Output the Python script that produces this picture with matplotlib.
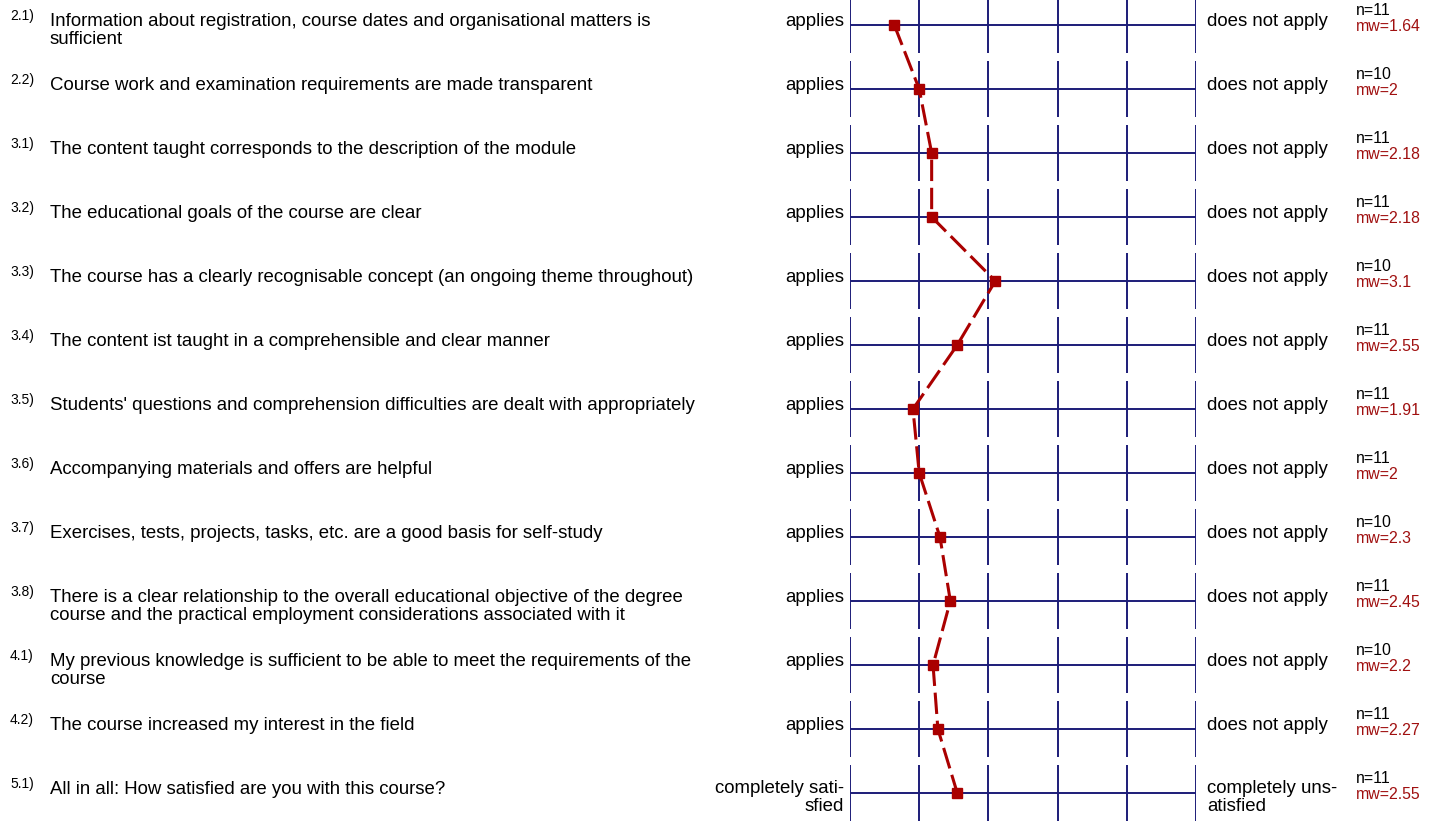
import matplotlib
matplotlib.use("Agg")
import matplotlib.pyplot as plt
import matplotlib.transforms as mtransforms

plt.rcParams['font.family'] = ['Liberation Sans', 'DejaVu Sans']

numbers = ["2.1)", "2.2)", "3.1)", "3.2)", "3.3)", "3.4)", "3.5)", "3.6)",
           "3.7)", "3.8)", "4.1)", "4.2)", "5.1)"]
questions = [
    "Information about registration, course dates and organisational matters is\nsufficient",
    "Course work and examination requirements are made transparent",
    "The content taught corresponds to the description of the module",
    "The educational goals of the course are clear",
    "The course has a clearly recognisable concept (an ongoing theme throughout)",
    "The content ist taught in a comprehensible and clear manner",
    "Students' questions and comprehension difficulties are dealt with appropriately",
    "Accompanying materials and offers are helpful",
    "Exercises, tests, projects, tasks, etc. are a good basis for self-study",
    "There is a clear relationship to the overall educational objective of the degree\ncourse and the practical employment considerations associated with it",
    "My previous knowledge is sufficient to be able to meet the requirements of the\ncourse",
    "The course increased my interest in the field",
    "All in all: How satisfied are you with this course?",
]
left_labels = ["applies"] * 12 + ["completely sati-\nsfied"]
right_labels = ["does not apply"] * 12 + ["completely uns-\natisfied"]
n_values = [11, 10, 11, 11, 10, 11, 11, 11, 10, 11, 10, 11, 11]
means = [1.64, 2, 2.18, 2.18, 3.1, 2.55, 1.91, 2, 2.3, 2.45, 2.2, 2.27, 2.55]
scale = [1, 2, 3, 4, 5, 6]

W, H = 1439, 821
fig = plt.figure(figsize=(W / 100, H / 100), dpi=100)
x0, x1 = 850, 1196
ax = fig.add_axes([x0 / W, 0, (x1 - x0) / W, 1])
nrows = len(means)
row_h = 64
top_c = 25
ax.set_xlim(1, 6)
ax.set_ylim((H - top_c) / row_h, -top_c / row_h)
ax.axis('off')

navy = '#1c1c78'
red = '#aa0000'
half = 28 / row_h
for i in range(nrows):
    ax.plot([scale[0], scale[-1]], [i, i], color=navy, lw=1.4, solid_capstyle='butt', zorder=1)
    for s in scale:
        ax.plot([s, s], [i - half, i + half], color=navy, lw=1.4, solid_capstyle='butt', zorder=1)

rows = list(range(nrows))
ax.plot(means, rows, color=red, lw=2.2, dashes=(7, 2.2), zorder=3)
ax.plot(means, rows, linestyle='none', marker='s', markersize=7, color=red, zorder=4)

tr = mtransforms.blended_transform_factory(fig.transFigure, ax.transData)
px = 1 / row_h
fs = 13.4
ls = 1.07
line_px = 18


def ml_text(x, i, s, ha, **kw):
    nl = s.count("\n")
    ax.text(x / W, i + (0.5 + nl * line_px) * px, s, transform=tr, fontsize=fs, va='baseline', ha=ha,
            linespacing=ls, multialignment=ha, clip_on=False, **kw)


for i in range(nrows):
    ax.text(10 / W, i - 5 * px, numbers[i], transform=tr, fontsize=10, va='baseline', ha='left', clip_on=False)
    ml_text(50, i, questions[i], 'left')
    if i < nrows - 1:
        ml_text(844, i, left_labels[i], 'right')
        ml_text(1207, i, right_labels[i], 'left')
    else:
        ax.text(844 / W, i + 18 * px, left_labels[i], transform=tr, fontsize=fs, va='baseline', ha='right',
                linespacing=ls, multialignment='right', clip_on=False)
        ax.text(1207 / W, i + 18 * px, right_labels[i], transform=tr, fontsize=fs, va='baseline', ha='left',
                linespacing=ls, clip_on=False)
    ax.text(1356 / W, i - 10 * px, f"n={n_values[i]}", transform=tr, fontsize=11.4, va='baseline', ha='left', clip_on=False)
    ax.text(1356 / W, i + 6 * px, f"mw={means[i]:g}", transform=tr, fontsize=11.4, va='baseline', ha='left',
            color='#a01010', clip_on=False)

fig.savefig("out.png", dpi=100)
